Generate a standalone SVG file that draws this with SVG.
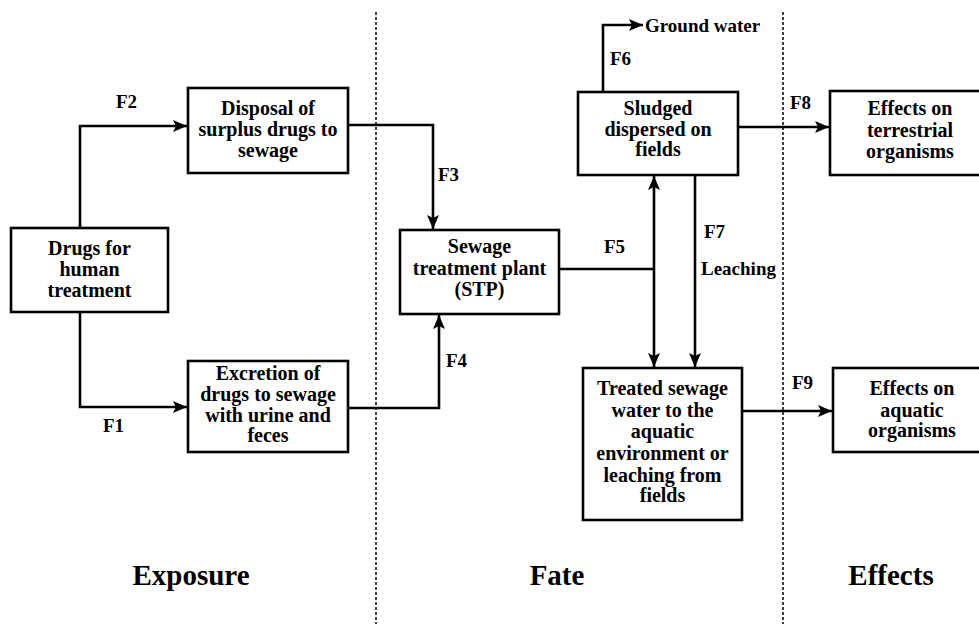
<svg xmlns="http://www.w3.org/2000/svg" width="979" height="624" viewBox="0 0 979 624">
<defs>
<style>
.box{fill:#fff;stroke:#000;stroke-width:2.6}
.t{font-family:"Liberation Serif","Times New Roman",serif;font-weight:bold;font-size:20px;fill:#000;text-anchor:middle}
.lbl{font-family:"Liberation Serif","Times New Roman",serif;font-weight:bold;font-size:19px;fill:#000}
.sec{font-family:"Liberation Serif","Times New Roman",serif;font-weight:bold;font-size:29px;fill:#000;text-anchor:middle}
.c{fill:none;stroke:#000;stroke-width:2.6}
.dash{fill:none;stroke:#000;stroke-width:1.5;stroke-dasharray:3 2}
</style>
<marker id="ah" viewBox="0 0 14 12" refX="14" refY="6" markerWidth="14" markerHeight="12" markerUnits="userSpaceOnUse" orient="auto">
<path d="M0,0 L14,6 L0,12 L3,6 Z" fill="#000"/>
</marker>
</defs>

<g id="dividers">
<line class="dash" x1="376" y1="12" x2="376" y2="624"/>
<line class="dash" x1="783" y1="12" x2="783" y2="624"/>
</g>

<g id="connectors">
<path class="c" d="M80,228 V126 H187" marker-end="url(#ah)"/>
<path class="c" d="M80,312 V407 H187" marker-end="url(#ah)"/>
<path class="c" d="M348,125 H433 V229" marker-end="url(#ah)"/>
<path class="c" d="M348,408 H439 V315" marker-end="url(#ah)"/>
<path class="c" d="M559,269 H654"/>
<path class="c" d="M654,269 V176" marker-end="url(#ah)"/>
<path class="c" d="M654,269 V367" marker-end="url(#ah)"/>
<path class="c" d="M695,175 V367" marker-end="url(#ah)"/>
<path class="c" d="M603,92 V25 H643" marker-end="url(#ah)"/>
<path class="c" d="M738,127 H829" marker-end="url(#ah)"/>
<path class="c" d="M742,411 H832" marker-end="url(#ah)"/>
</g>

<g id="labels">
<text class="lbl" x="116" y="108">F2</text>
<text class="lbl" x="103" y="432">F1</text>
<text class="lbl" x="438" y="181">F3</text>
<text class="lbl" x="446" y="367">F4</text>
<text class="lbl" x="604" y="253">F5</text>
<text class="lbl" x="610" y="65">F6</text>
<text class="lbl" x="704" y="238">F7</text>
<text class="lbl" x="701" y="275">Leaching</text>
<text class="lbl" x="790" y="109">F8</text>
<text class="lbl" x="792" y="389">F9</text>
<text class="lbl" x="645" y="32">Ground water</text>
</g>

<g id="n-drugs">
<rect class="box" x="11" y="228" width="157" height="84"/>
<text class="t" x="89.5" y="255">Drugs for</text>
<text class="t" x="89.5" y="276">human</text>
<text class="t" x="89.5" y="297">treatment</text>
</g>

<g id="n-disposal">
<rect class="box" x="188" y="88" width="160" height="85"/>
<text class="t" x="268" y="115">Disposal of</text>
<text class="t" x="268" y="136">surplus drugs to</text>
<text class="t" x="268" y="157">sewage</text>
</g>

<g id="n-excretion">
<rect class="box" x="188" y="361" width="160" height="91"/>
<text class="t" x="268" y="380">Excretion of</text>
<text class="t" x="268" y="401">drugs to sewage</text>
<text class="t" x="268" y="422">with urine and</text>
<text class="t" x="268" y="442">feces</text>
</g>

<g id="n-stp">
<rect class="box" x="400" y="230" width="159" height="84"/>
<text class="t" x="479.5" y="253">Sewage</text>
<text class="t" x="479.5" y="274.5">treatment plant</text>
<text class="t" x="479.5" y="296">(STP)</text>
</g>

<g id="n-sludge">
<rect class="box" x="578" y="92" width="160" height="83"/>
<text class="t" x="658" y="115">Sludged</text>
<text class="t" x="658" y="136">dispersed on</text>
<text class="t" x="658" y="156">fields</text>
</g>

<g id="n-treated">
<rect class="box" x="583" y="368" width="159" height="152"/>
<text class="t" x="662.5" y="395">Treated sewage</text>
<text class="t" x="662.5" y="417">water to the</text>
<text class="t" x="662.5" y="438">aquatic</text>
<text class="t" x="662.5" y="460">environment or</text>
<text class="t" x="662.5" y="482">leaching from</text>
<text class="t" x="662.5" y="502">fields</text>
</g>

<g id="n-terrestrial">
<rect class="box" x="830" y="91" width="170" height="84"/>
<text class="t" x="910" y="115">Effects on</text>
<text class="t" x="910" y="137">terrestrial</text>
<text class="t" x="910" y="158">organisms</text>
</g>

<g id="n-aquatic">
<rect class="box" x="833" y="368" width="170" height="84"/>
<text class="t" x="912" y="395">Effects on</text>
<text class="t" x="912" y="417">aquatic</text>
<text class="t" x="912" y="437">organisms</text>
</g>

<g id="sections">
<text class="sec" x="191" y="585">Exposure</text>
<text class="sec" x="557" y="585">Fate</text>
<text class="sec" x="891" y="585">Effects</text>
</g>
</svg>
